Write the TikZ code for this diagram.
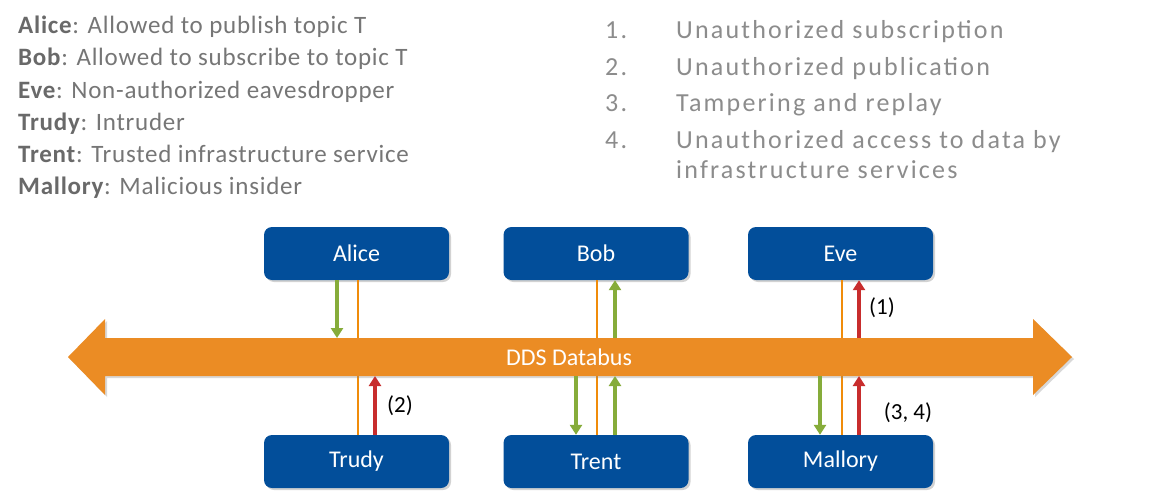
\documentclass[tikz,border=0pt]{standalone}
\usepackage{fontspec}
\setmainfont{Carlito}
\newfontfamily\leftfont[LetterSpace=3]{Carlito}
\newfontfamily\listfont[LetterSpace=8.5]{Carlito}
\usetikzlibrary{arrows.meta,shadows}
\definecolor{boxblue}{RGB}{2,78,154}
\definecolor{busorange}{RGB}{235,140,36}
\definecolor{lineorange}{RGB}{240,140,10}
\definecolor{agreen}{RGB}{134,172,58}
\definecolor{ared}{RGB}{200,45,45}
\definecolor{namegray}{RGB}{105,105,105}
\definecolor{descgray}{RGB}{118,118,118}
\definecolor{listgray}{RGB}{140,140,140}
\tikzset{
  actor/.style={draw=none, fill=boxblue, rounded corners=8pt, minimum width=185pt,
    minimum height=53pt, inner sep=0pt, text=white,
    font=\fontsize{24}{28}\selectfont,
    drop shadow={opacity=0.35, shadow xshift=2pt, shadow yshift=-2pt}},
  oline/.style={draw=lineorange, line width=1.5pt},
  garrow/.style={draw=agreen, line width=3.5pt, -{Triangle[width=12pt,length=10pt]}},
  rarrow/.style={draw=ared, line width=3.5pt, -{Triangle[width=12pt,length=10pt]}},
  leftline/.style={anchor=base west, inner sep=0pt, text=descgray,
    font=\leftfont\fontsize{25}{29}\selectfont},
  listline/.style={anchor=base west, inner sep=0pt, text=listgray,
    font=\listfont\fontsize{26}{30}\selectfont},
  tag/.style={inner sep=0pt, text=black, font=\fontsize{23}{27}\selectfont}
}
\begin{document}
\begin{tikzpicture}[x=1pt,y=-1pt]
\useasboundingbox (0,0) rectangle (1156,498);
\fill[white] (0,0) rectangle (1156,498);

% legend (left)
\node[leftline] (l1) at (18,33) {\textcolor{namegray}{\textbf{Alice}}: Allowed to publish topic T};
\node[leftline] (l2) at (18,65) {\textcolor{namegray}{\textbf{Bob}}: Allowed to subscribe to topic T};
\node[leftline] (l3) at (18,98) {\textcolor{namegray}{\textbf{Eve}}: Non-authorized eavesdropper};
\node[leftline] (l4) at (18,130) {\textcolor{namegray}{\textbf{Trudy}}: Intruder};
\node[leftline] (l5) at (18,162) {\textcolor{namegray}{\textbf{Trent}}: Trusted infrastructure service};
\node[leftline] (l6) at (18,194) {\textcolor{namegray}{\textbf{Mallory}}: Malicious insider};

% threat list (right)
\node[listline] (n1) at (605,38) {1.};
\node[listline] (t1) at (676,38) {Unauthorized subscription};
\node[listline] (n2) at (605,75) {2.};
\node[listline] (t2) at (676,75) {Unauthorized publication};
\node[listline] (n3) at (605,111) {3.};
\node[listline] (t3) at (676,111) {Tampering and replay};
\node[listline] (n4) at (605,148) {4.};
\node[listline] (t4) at (676,148) {Unauthorized access to data by};
\node[listline] (t4b) at (676,178) {infrastructure services};

% actors
\node[actor] (alice) at (356.5,253.5) {Alice};
\node[actor] (bob) at (596,253.5) {Bob};
\node[actor] (eve) at (840.5,253.5) {Eve};
\node[actor] (trudy) at (356.5,461.5) {Trudy};
\node[actor] (trent) at (596,461.5) {Trent};
\node[actor] (mallory) at (840.5,461.5) {Mallory};

% thin orange lines passing behind the bus
\draw[oline] ([xshift=1.5pt]alice.south) -- ([xshift=1.5pt]trudy.north);
\draw[oline] ([xshift=1pt]bob.south) -- ([xshift=1pt]trent.north);
\draw[oline] ([xshift=1.5pt]eve.south) -- ([xshift=1.5pt]mallory.north);

% the bus
\coordinate (busN) at (0,338);
\coordinate (busS) at (0,376);
\fill[busorange, drop shadow={opacity=0.3, shadow xshift=2pt, shadow yshift=-2pt}]
  (68,357) -- (105,319) -- (105,338) -- (1033,338) -- (1033,319) -- (1072,357)
  -- (1033,395) -- (1033,376) -- (105,376) -- (105,395) -- cycle;
\node[text=white, inner sep=0pt, font=\fontsize{24}{28}\selectfont] (bus) at (569,357) {DDS Databus};

% arrows above the bus
\draw[garrow] ([xshift=-19.5pt]alice.south) -- ([xshift=-19.5pt]alice.south |- busN);
\draw[garrow] ([xshift=19pt]bob.south |- busN) -- ([xshift=19pt]bob.south);
\draw[rarrow] ([xshift=18.5pt]eve.south |- busN) -- ([xshift=18.5pt]eve.south);

% arrows below the bus
\draw[rarrow] ([xshift=18.5pt]trudy.north) -- ([xshift=18.5pt]trudy.north |- busS);
\draw[garrow] ([xshift=-20pt]trent.north |- busS) -- ([xshift=-20pt]trent.north);
\draw[garrow] ([xshift=19pt]trent.north) -- ([xshift=19pt]trent.north |- busS);
\draw[garrow] ([xshift=-20.5pt]mallory.north |- busS) -- ([xshift=-20.5pt]mallory.north);
\draw[rarrow] ([xshift=18.5pt]mallory.north) -- ([xshift=18.5pt]mallory.north |- busS);

% labels
\node[tag] (lab1) at (882,308) {(1)};
\node[tag] (lab2) at (400,406) {(2)};
\node[tag] (lab34) at (908,413) {(3, 4)};
\end{tikzpicture}
\end{document}
